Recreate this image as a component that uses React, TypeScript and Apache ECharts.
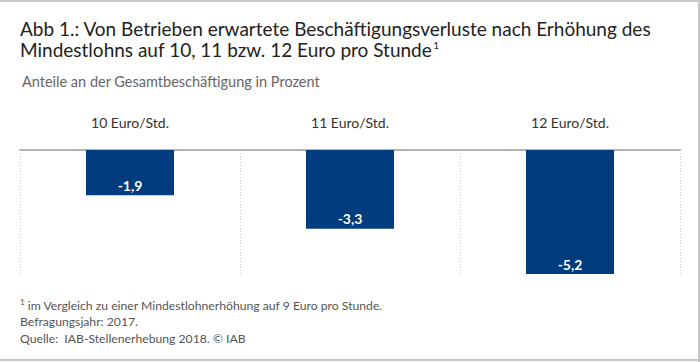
import React, { useEffect, useRef } from "react";
import * as echarts from "echarts";

const categories = ["10 Euro/Std.", "11 Euro/Std.", "12 Euro/Std."];
const values = [-1.9, -3.3, -5.2];
const titleLine1 = "Abb 1.: Von Betrieben erwartete Beschäftigungsverluste nach Erhöhung des";
const titleLine2 = "Mindestlohns auf 10, 11 bzw. 12 Euro pro Stunde";
const subtitle = "Anteile an der Gesamtbeschäftigung in Prozent";
const footnotes = [
  "im Vergleich zu einer Mindestlohnerhöhung auf 9 Euro pro Stunde.",
  "Befragungsjahr: 2017.",
  "Quelle:  IAB-Stellenerhebung 2018. © IAB",
];

const FONT = "Lato";

export default function App() {
  const ref = useRef<HTMLDivElement>(null);
  useEffect(() => {
    document.body.style.margin = "0";
    const chart = echarts.init(ref.current!, null, { renderer: "svg" });
    chart.setOption({
      animation: false,
      textStyle: { fontFamily: FONT },
      grid: { left: 20, right: 20, top: 150, bottom: 88 },
      xAxis: {
        type: "category",
        data: categories,
        position: "top",
        axisLine: { show: true, lineStyle: { color: "#b4b4b4", width: 2 } },
        axisTick: { show: false },
        axisLabel: { margin: 21, fontSize: 14, color: "#333", fontFamily: FONT },
        splitLine: {
          show: true,
          showMinLine: true,
          showMaxLine: true,
          lineStyle: { color: "#c8c8c8", type: [1, 2], width: 1 },
        },
      },
      yAxis: {
        type: "value",
        min: -5.2,
        max: 0,
        show: false,
        splitLine: { show: false },
      },
      series: [
        {
          type: "bar",
          data: values,
          barWidth: "40%",
          itemStyle: { color: "#003c7e" },
          label: {
            show: true,
            position: "insideBottom",
            distance: 3,
            color: "#fff",
            fontWeight: "bold",
            fontSize: 14,
            fontFamily: FONT,
            formatter: (p: any) => String(p.value).replace(".", ","),
          },
        },
      ],
      graphic: [
        { type: "line", shape: { x1: 0, y1: 1, x2: 700, y2: 1 }, style: { stroke: "#c8c8c8", lineWidth: 2 } },
        { type: "line", shape: { x1: 699, y1: 0, x2: 699, y2: 362 }, style: { stroke: "#c8c8c8", lineWidth: 2 } },
        { type: "line", shape: { x1: 0, y1: 360, x2: 700, y2: 360 }, style: { stroke: "#c8c8c8", lineWidth: 2 } },
        {
          type: "text",
          left: 20,
          top: 17,
          style: { text: titleLine1, fontSize: 19, lineHeight: 22, fill: "#222", fontFamily: FONT },
        },
        {
          type: "text",
          left: 20,
          top: 40,
          style: {
            text: "{m|" + titleLine2 + "}{s|1}",
            fill: "#222",
            fontFamily: FONT,
            rich: {
              m: { fontSize: 19, fontFamily: FONT, fill: "#222", lineHeight: 22 },
              s: { fontSize: 10, fontFamily: FONT, fill: "#222", padding: [0, 0, 9, 1], lineHeight: 22 },
            },
          },
        },
        {
          type: "text",
          left: 22,
          top: 74,
          style: { text: subtitle, fontSize: 14.5, fill: "#666", fontFamily: FONT },
        },
        {
          type: "text",
          left: 20,
          top: 298,
          style: {
            text: "{s|1}{m| " + footnotes[0] + "}",
            fontFamily: FONT,
            rich: {
              m: { fontSize: 12.2, fontFamily: FONT, fill: "#555", lineHeight: 16 },
              s: { fontSize: 8, fontFamily: FONT, fill: "#555", padding: [0, 0, 6, 0], lineHeight: 16 },
            },
          },
        },
        {
          type: "text",
          left: 20,
          top: 315,
          style: { text: footnotes[1], fontSize: 12.2, fill: "#555", fontFamily: FONT },
        },
        {
          type: "text",
          left: 20,
          top: 332,
          style: { text: footnotes[2], fontSize: 12.2, fill: "#555", fontFamily: FONT },
        },
      ],
    });
    return () => chart.dispose();
  }, []);
  return <div ref={ref} style={{ width: 700, height: 362 }} />;
}
